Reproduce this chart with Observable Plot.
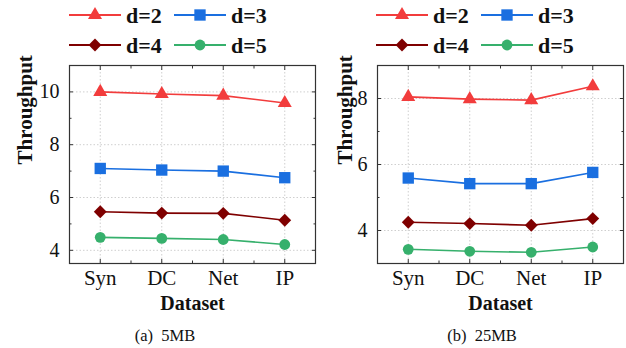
<!DOCTYPE html>
<html><head><meta charset="utf-8">
<script src="https://cdn.jsdelivr.net/npm/d3@7"></script>
<script src="https://cdn.jsdelivr.net/npm/@observablehq/plot@0.6"></script>
<style>
body{margin:0;background:#fff;}
#wrap{position:relative;width:626px;height:348px;overflow:hidden;font-family:"Liberation Serif",serif;}
.cap{position:absolute;font-size:16.5px;color:#111;transform:translateX(-50%);white-space:pre;}
</style></head>
<body><div id="wrap"></div>
<script>
const categories = ["Syn","DC","Net","IP"];
const seriesNames = ["d=2","d=3","d=4","d=5"];
const colors = ["#f23c3c","#1a6fe0","#7f0000","#36b06c"];
const symbols = ["triangle","square","diamond2","circle"];
const radii = [5.2,6.4,5.8,5.4];

// 5MB panel
const mb5_d2 = [10.00, 9.92, 9.86, 9.58];
const mb5_d3 = [7.10, 7.04, 7.00, 6.75];
const mb5_d4 = [5.46, 5.41, 5.40, 5.14];
const mb5_d5 = [4.49, 4.45, 4.41, 4.22];
// 25MB panel
const mb25_d2 = [8.05, 7.98, 7.95, 8.37];
const mb25_d3 = [5.59, 5.42, 5.42, 5.76];
const mb25_d4 = [4.25, 4.21, 4.16, 4.36];
const mb25_d5 = [3.43, 3.37, 3.34, 3.50];

const yTicks5 = [4,6,8,10];
const yMinor5 = [5,7,9,11];
const yTicks25 = [4,6,8];
const yMinor25 = [3,5,7,9];
const xMajor = [0,1,2,3];
const xMinor = [0.5,1.5,2.5];

const captions = ["(a)  5MB","(b)  25MB"];

function rows(series){
  const out=[];
  series.forEach((vals,s)=>vals.forEach((v,i)=>out.push({x:i,y:v,s:seriesNames[s],si:s})));
  return out;
}

function panel(data, yDomain, yMaj, yMin, opts){
  const tickStyle = {stroke:"#333"};
  const marks = [
    Plot.gridX(xMajor,{stroke:"#cfcfcf",strokeOpacity:1,strokeDasharray:"1.5,2"}),
    Plot.gridY(yMaj,{stroke:"#cfcfcf",strokeOpacity:1,strokeDasharray:"1.5,2"}),
    Plot.axisX(xMajor,{anchor:"bottom",tickSize:-4,tickPadding:11,tickFormat:i=>categories[i],fontSize:21,label:null,...tickStyle}),
    Plot.axisX(xMinor,{anchor:"bottom",tickSize:-2.5,tickFormat:()=>"",label:null,...tickStyle}),
    Plot.axisX(xMajor,{anchor:"top",tickSize:-4,tickFormat:()=>"",label:null,...tickStyle}),
    Plot.axisX(xMinor,{anchor:"top",tickSize:-2.5,tickFormat:()=>"",label:null,...tickStyle}),
    Plot.axisY(yMaj,{anchor:"left",tickSize:-4,tickPadding:14,fontSize:20,label:null,...tickStyle}),
    Plot.axisY(yMin,{anchor:"left",tickSize:-2.5,tickFormat:()=>"",label:null,...tickStyle}),
    Plot.axisY(yMaj,{anchor:"right",tickSize:-4,tickFormat:()=>"",label:null,...tickStyle}),
    Plot.axisY(yMin,{anchor:"right",tickSize:-2.5,tickFormat:()=>"",label:null,...tickStyle}),
    Plot.line(data,{x:"x",y:"y",z:"s",stroke:"s",strokeWidth:1.6})
  ];
  seriesNames.forEach((n,s)=>{
    marks.push(Plot.dot(data.filter(d=>d.si===s),{x:"x",y:"y",symbol:()=>symbols[s],r:radii[s],fill:colors[s],stroke:"none"}));
  });
  marks.push(Plot.frame({stroke:"#333",strokeWidth:1.2}));
  marks.push(Plot.text(["Throughput"],{frameAnchor:"left",dx:-opts.ylabOff,rotate:-90,fontSize:21,fontWeight:"bold",fill:"#111"}));
  marks.push(Plot.text(["Dataset"],{frameAnchor:"bottom",dy:46,fontSize:20,fontWeight:"bold",fill:"#111"}));
  return Plot.plot({
    width:opts.width,height:255,marginLeft:opts.ml,marginRight:opts.mr,marginTop:5,marginBottom:52,
    x:{domain:[-0.5,3.5]},
    y:{domain:yDomain},
    color:{domain:seriesNames,range:colors},
    style:{fontFamily:"Liberation Serif",background:"transparent",color:"#111",overflow:"visible"},
    marks
  });
}

const wrap=document.getElementById("wrap");

function legend(x0){
  const svg=d3.create("svg").attr("width",313).attr("height",60).style("position","absolute").style("left",x0+"px").style("top","0px").style("overflow","visible");
  const cols=[0,105], rowsY=[15,45];
  seriesNames.forEach((n,s)=>{
    const cx=cols[s%2], cy=rowsY[Math.floor(s/2)];
    svg.append("line").attr("x1",cx).attr("x2",cx+52).attr("y1",cy).attr("y2",cy).attr("stroke",colors[s]).attr("stroke-width",1.8);
    const sym = [d3.symbolTriangle,d3.symbolSquare,d3.symbolDiamond2,d3.symbolCircle][s];
    svg.append("path").attr("d",d3.symbol(sym,Math.PI*radii[s]*radii[s])()).attr("transform",`translate(${cx+26},${cy})`).attr("fill",colors[s]);
    svg.append("text").attr("x",cx+57).attr("y",cy).attr("dy","0.35em").attr("font-family","Liberation Serif").attr("font-weight","bold").attr("font-size",22).attr("fill","#111").text(n);
  });
  return svg.node();
}

const p1=panel(rows([mb5_d2,mb5_d3,mb5_d4,mb5_d5]),[3.5,11],yTicks5,yMinor5,{width:316,ml:69,mr:1,ylabOff:44});
p1.style.position="absolute";p1.style.left="0px";p1.style.top="60px";
wrap.appendChild(p1);
const p2=panel(rows([mb25_d2,mb25_d3,mb25_d4,mb25_d5]),[3,9],yTicks25,yMinor25,{width:313,ml:64,mr:3,ylabOff:32});
p2.style.position="absolute";p2.style.left="313px";p2.style.top="60px";
wrap.appendChild(p2);

wrap.appendChild(legend(69));
wrap.appendChild(legend(376));

[[165,captions[0]],[482,captions[1]]].forEach(([cx,t])=>{
  const d=document.createElement("div");d.className="cap";d.style.left=cx+"px";d.style.top="326px";d.textContent=t;wrap.appendChild(d);
});
</script></body></html>
